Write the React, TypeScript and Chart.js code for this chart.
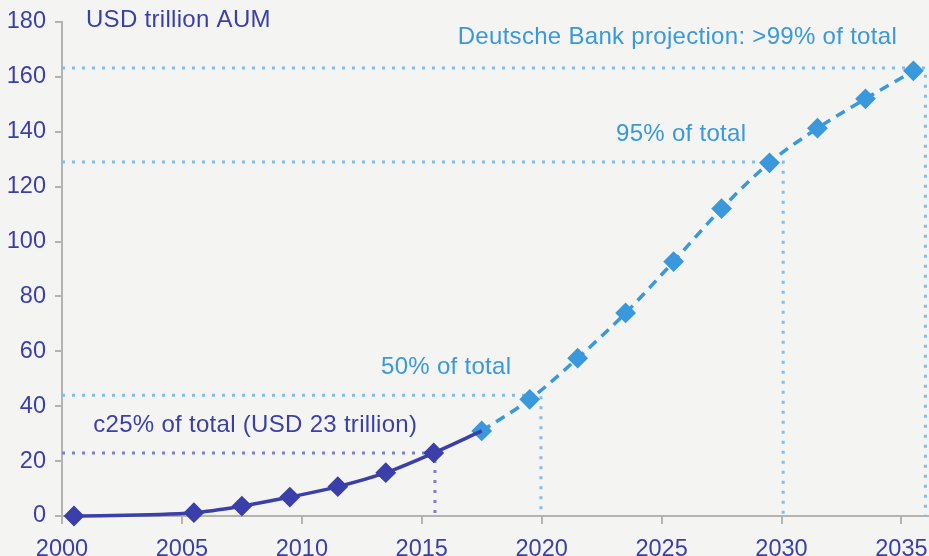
import React, { useEffect, useRef } from "react";
import { Chart, registerables } from "chart.js";

Chart.register(...registerables);

// Data
const histYears = [2000.5, 2005.5, 2007.5, 2009.5, 2011.5, 2013.5, 2015.5, 2017.5];
const histValues = [0, 1.2, 3.6, 6.9, 10.7, 15.8, 23, 31];
const projYears = [2017.5, 2019.5, 2021.5, 2023.5, 2025.5, 2027.5, 2029.5, 2031.5, 2033.5, 2035.5];
const projValues = [31, 42.5, 57.5, 74, 92.7, 112, 128.7, 141.3, 152, 162.2];
const xTicks = [2000, 2005, 2010, 2015, 2020, 2025, 2030, 2035];

// Reference levels: [value, year]
const ref25 = [23, 2015.55];
const ref50 = [44, 2019.97];
const ref95 = [129, 2030.07];
const ref99 = [163.2, 2036.0];

const DARK = "#3a3fa9";
const LIGHT = "#3a98dc";
const DOT_LIGHT = "#7fbdea";
const DOT_DARK = "#7b80d0";
const GREY = "#b5b3b0";
const BG = "#f4f4f2";
const FONT = "'Liberation Sans', Arial, Helvetica, sans-serif";

const annotations = [
  { text: "USD trillion AUM", x: 2001.0, y: 180.6, color: DARK },
  { text: "c25% of total (USD 23 trillion)", x: 2001.3, y: 33.0, color: DARK },
  { text: "50% of total", x: 2013.3, y: 54, color: LIGHT },
  { text: "95% of total", x: 2023.1, y: 139, color: LIGHT },
  { text: "Deutsche Bank projection: >99% of total", x: 2016.5, y: 174.5, color: LIGHT },
];

function refLine(r: number[], color: string) {
  return {
    type: "line" as const,
    data: [
      { x: 2000, y: r[0] },
      { x: r[1], y: r[0] },
      { x: r[1], y: 0 },
    ],
    borderColor: color,
    borderWidth: 3,
    borderDash: [3, 7],
    pointRadius: 0,
    tension: 0,
    order: 5,
  };
}

export default function App() {
  const ref = useRef<HTMLCanvasElement | null>(null);
  useEffect(() => {
    document.body.style.margin = "0";
    const textPlugin = {
      id: "texts",
      afterDatasetsDraw(chart: any) {
        const ctx = chart.ctx;
        const xs = chart.scales.x;
        const ys = chart.scales.y;
        ctx.save();
        ctx.font = `24px ${FONT}`;
        try {
          (ctx as any).letterSpacing = "0.3px";
        } catch (e) {}
        ctx.textAlign = "left";
        ctx.textBaseline = "middle";
        for (const a of annotations) {
          ctx.fillStyle = a.color;
          ctx.fillText(a.text, xs.getPixelForValue(a.x), ys.getPixelForValue(a.y));
        }
        ctx.restore();
      },
    };
    const chart = new Chart(ref.current!, {
      type: "scatter",
      data: {
        datasets: [
          {
            type: "line",
            data: histYears.map((x, i) => ({ x, y: histValues[i] })),
            borderColor: DARK,
            backgroundColor: histYears.map((_, i) => (i === histYears.length - 1 ? LIGHT : DARK)),
            pointBorderColor: histYears.map((_, i) => (i === histYears.length - 1 ? LIGHT : DARK)),
            borderWidth: 3.5,
            pointStyle: "rectRot",
            pointRadius: histYears.map((_, i) => (i === histYears.length - 1 ? 0 : 9)),
            pointBorderWidth: 2,
            cubicInterpolationMode: "monotone",
            clip: false,
            order: 1,
          } as any,
          {
            type: "line",
            data: projYears.map((x, i) => ({ x, y: projValues[i] })),
            borderColor: LIGHT,
            backgroundColor: LIGHT,
            pointBorderColor: LIGHT,
            borderWidth: 3.5,
            borderDash: [10, 7],
            pointStyle: "rectRot",
            pointRadius: 9,
            pointBorderWidth: 2,
            cubicInterpolationMode: "monotone",
            clip: false,
            order: 2,
          } as any,
          refLine(ref25, DOT_DARK) as any,
          refLine(ref50, DOT_LIGHT) as any,
          refLine(ref95, DOT_LIGHT) as any,
          refLine(ref99, DOT_LIGHT) as any,
        ],
      },
      options: {
        animation: false,
        responsive: false,
        maintainAspectRatio: false,
        layout: { autoPadding: false, padding: { top: 22, right: 0, bottom: 0, left: 0 } },
        plugins: { legend: { display: false }, tooltip: { enabled: false } },
        scales: {
          x: {
            type: "linear",
            min: 2000,
            max: 2036.15,
            afterFit: (s: any) => {
              s.height = 40;
              s.paddingLeft = 0;
              s.paddingRight = 0;
            },
            afterBuildTicks: (s: any) => {
              s.ticks = xTicks.map((v) => ({ value: v }));
            },
            grid: { drawOnChartArea: false, drawTicks: true, tickLength: 8, color: GREY, lineWidth: 2 },
            border: { color: GREY, width: 2 },
            ticks: {
              color: DARK,
              font: { family: FONT, size: 23.5 },
              padding: 11,
              maxRotation: 0,
              autoSkip: false,
              includeBounds: false,
              callback: (v: any) => String(v),
            },
          },
          y: {
            min: 0,
            max: 180,
            afterFit: (s: any) => {
              s.width = 62;
              s.paddingTop = 0;
              s.paddingBottom = 0;
            },
            grid: { drawOnChartArea: false, drawTicks: true, tickLength: 7, color: GREY, lineWidth: 2 },
            border: { color: GREY, width: 2 },
            ticks: {
              color: DARK,
              font: { family: FONT, size: 23.5 },
              stepSize: 20,
              padding: 9,
            },
          },
        },
      },
      plugins: [
        {
          id: "bg",
          beforeDraw(chart: any) {
            const c = chart.ctx;
            c.save();
            c.fillStyle = BG;
            c.fillRect(0, 0, chart.width, chart.height);
            c.restore();
          },
        },
        textPlugin,
      ],
    } as any);
    return () => chart.destroy();
  }, []);
  return (
    <div style={{ width: 929, height: 556, background: BG }}>
      <canvas ref={ref} width={929} height={556} style={{ display: "block" }} />
    </div>
  );
}
